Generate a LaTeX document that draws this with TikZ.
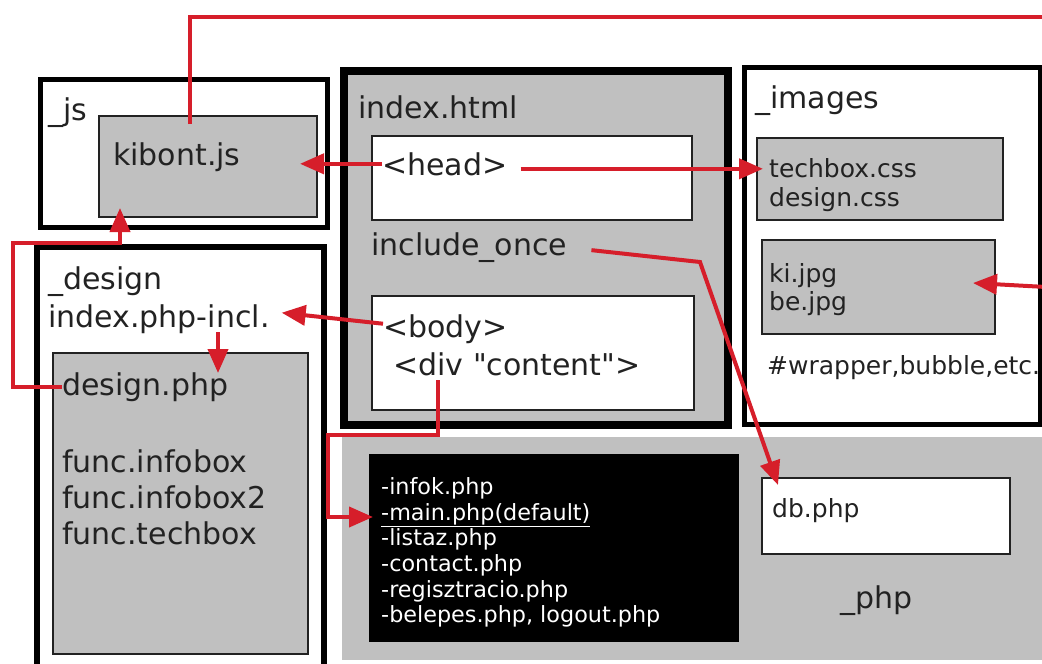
\documentclass[tikz,border=0pt]{standalone}
\usepackage{fontspec}
\setmainfont{DejaVu Sans}
\usetikzlibrary{arrows.meta, positioning, calc}
\definecolor{folderGray}{RGB}{192,192,192}
\definecolor{linkRed}{RGB}{214,30,42}
\definecolor{inkGray}{RGB}{34,34,34}

\begin{document}
\begin{tikzpicture}[
    x=1pt, y=-1pt,
    folder/.style={rectangle, draw, line width=5pt, inner sep=0pt, outer sep=0pt, anchor=north west},
    file/.style={rectangle, draw=inkGray, line width=1.5pt, fill=folderGray, inner sep=0pt, outer sep=0pt, anchor=north west},
    txt/.style={anchor=base west, inner sep=0pt, text=inkGray, font=\fontsize{30}{36}\selectfont},
    smalltxt/.style={txt, font=\fontsize{25}{30}\selectfont},
    listtxt/.style={anchor=base west, inner sep=0pt, text=white, font=\fontsize{22.3}{26}\selectfont},
    link/.style={draw=linkRed, line width=4pt, -{Triangle[length=24pt, width=20pt]}},
    wire/.style={draw=linkRed, line width=4pt}
]
\clip (0,0) rectangle (1042,664);

% _js
\node[folder, minimum width=287pt, minimum height=148pt] (jsDir) at (40.5,79) {};
\node[file, minimum width=218pt, minimum height=101pt] (kibontBox) at (99,116) {};
\node[txt] (jsLabel) at (48,120) {\_js};
\node[txt] (kibont) at (113,165) {kibont.js};

% index.html
\node[folder, line width=8pt, fill=folderGray, minimum width=384pt, minimum height=354pt] (indexDir) at (344,71) {};
\node[txt] (indexLabel) at (358,118) {index.html};
\node[file, fill=white, minimum width=320pt, minimum height=84pt] (headBox) at (372,136) {};
\node[txt] (head) at (382,175) {<head>};
\node[txt] (includeOnce) at (371,255) {include\_once};
\node[file, fill=white, minimum width=322pt, minimum height=114pt] (bodyBox) at (372,296) {};
\node[txt] (body) at (383,337) {<body>};
\node[txt] (divContent) at (393,375) {<div \textquotedbl content\textquotedbl>};

% _images
\node[folder, minimum width=296pt, minimum height=357pt] (imagesDir) at (744,67) {};
\node[txt] (imagesLabel) at (755,108) {\_images};
\node[file, minimum width=246pt, minimum height=82pt] (cssBox) at (757,138) {};
\node[smalltxt] (techboxCss) at (769,177) {techbox.css};
\node[smalltxt] (designCss) at (769,206) {design.css};
\node[file, minimum width=233pt, minimum height=94pt] (jpgBox) at (762,240) {};
\node[smalltxt] (kiJpg) at (769,282) {ki.jpg};
\node[smalltxt] (beJpg) at (769,310) {be.jpg};
\node[smalltxt] (wrapper) at (767,374) {\#wrapper,bubble,etc.};

% _design
\node[folder, line width=6pt, minimum width=287.5pt, minimum height=440pt] (designDir) at (36.5,246.5) {};
\node[txt] (designLabel) at (48,289) {\_design};
\node[txt] (phpIncl) at (48,327) {index.php-incl.};
\node[file, minimum width=255pt, minimum height=301pt] (designPhpBox) at (53,353) {};
\node[txt] (designPhp) at (62,395) {design.php};
\foreach \fn [count=\i] in {func.infobox, func.infobox2, func.techbox}
    \node[txt] (func\i) at (62,436+36*\i) {\fn};

% _php
\node[rectangle, fill=folderGray, inner sep=0pt, anchor=north west, minimum width=710pt, minimum height=223pt] (phpDir) at (342,437) {};
\node[rectangle, fill=black, inner sep=0pt, anchor=north west, minimum width=370pt, minimum height=188pt] (pageList) at (369,454) {};
\foreach \pg [count=\i] in {-infok.php, {\underline{-main.php(default)}}, -listaz.php, -contact.php, -regisztracio.php, {-belepes.php, logout.php}}
    \node[listtxt] (page\i) at (381,469+25.6*\i) {\pg};
\node[file, fill=white, minimum width=248pt, minimum height=76pt] (dbBox) at (762,478) {};
\node[smalltxt] (dbPhp) at (772,517) {db.php};
\node[txt] (phpLabel) at (840,608) {\_php};

% connectors
\coordinate (topRight) at (1046,17);
\coordinate (jpgSource) at (1046,287);
\coordinate (loopLeft) at (13,243);
\coordinate (onceBend) at (700,262);
\coordinate (divOut) at (438,380);
\coordinate (divBend) at (328,435);
\coordinate (inclOut) at (218,332);

\draw[wire] ($(kibontBox.north west)+(91,8)$) |- (topRight);
\draw[link] (head.west) -- ($(kibontBox.east |- head.west)+(-17,0)$);
\draw[link] ($(head.east)+(13,5)$) -- ($(cssBox.west |- head.east)+(6,5)$);
\draw[link] ($(includeOnce.east)+(24,3)$) -- (onceBend) -- ($(dbBox.north west)+(16,7)$);
\draw[link] (jpgSource) -- ($(jpgBox.east)+(-22,-4)$);
\draw[link] ($(body.west)+(0,-5)$) -- ($(phpIncl.east)+(12,-6)$);
\draw[link] (inclOut) -- ($(inclOut |- designPhpBox.north)+(0,20)$);
\draw[link] (designPhp.west) -| (loopLeft) -| ($(kibontBox.south west)+(21,-9)$);
\draw[link] (divOut) |- (divBend) |- ($(pageList.north west)+(4,63)$);

\end{tikzpicture}
\end{document}
